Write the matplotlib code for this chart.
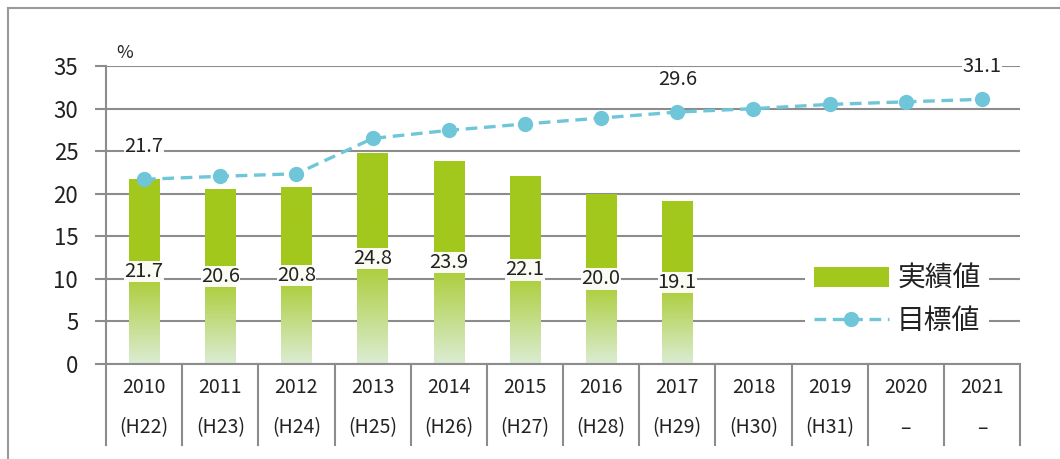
import matplotlib
matplotlib.use("Agg")
import matplotlib.pyplot as plt
import matplotlib.transforms as mtransforms
from matplotlib.lines import Line2D
from matplotlib.patches import Patch
from matplotlib.colors import LinearSegmentedColormap
import numpy as np

plt.rcParams['font.family'] = ['Noto Sans CJK JP', 'DejaVu Sans']

# data
years = ['2010', '2011', '2012', '2013', '2014', '2015', '2016', '2017', '2018', '2019', '2020', '2021']
eras = ['(H22)', '(H23)', '(H24)', '(H25)', '(H26)', '(H27)', '(H28)', '(H29)', '(H30)', '(H31)', '\u2013', '\u2013']
actual = [21.7, 20.6, 20.8, 24.8, 23.9, 22.1, 20.0, 19.1]
target = [21.7, 22.05, 22.35, 26.5, 27.45, 28.2, 28.9, 29.6, 30.0, 30.5, 30.8, 31.1]
target_labels = {0: '21.7', 7: '29.6', 11: '31.1'}

green = '#a3c81d'
pale = '#dbecd3'
blue = '#6fc6d9'
grid_c = '#8c8c8c'
txt_c = '#222222'

fig = plt.figure(figsize=(10.6, 4.59), dpi=100)
ax = fig.add_axes([0.1, 0.207, 0.9623 - 0.1, 0.856 - 0.207])

# outer border (top + left)
fig.add_artist(Line2D([8/1060, 1], [1 - 8/459, 1 - 8/459], color='#9a9a9a', lw=1.5))
fig.add_artist(Line2D([8/1060, 8/1060], [0, 1 - 8/459], color='#9a9a9a', lw=1.5))

x = np.arange(len(years))

# gradient bars
cmap = LinearSegmentedColormap.from_list('g', [(0, pale), (0.55, green), (1, green)])
grad = np.linspace(0, 1, 256).reshape(-1, 1)
bars = ax.bar(x[:len(actual)], actual, width=0.4, color='none', zorder=2)
for b, v in zip(bars, actual):
    im = ax.imshow(grad, cmap=cmap, origin='lower', aspect='auto',
                   extent=[b.get_x(), b.get_x() + b.get_width(), 0, v], zorder=2)
    im.set_clip_path(b)
ax.set_xlim(-0.5, len(years) - 0.5)
ax.set_ylim(0, 35)

for i, v in enumerate(actual):
    ax.text(i, v / 2, f'{v:.1f}', ha='center', va='center', fontsize=14.5, color=txt_c, zorder=5,
            bbox=dict(facecolor='white', edgecolor='none', pad=0.2, alpha=0.95))

# target line
ax.plot(x, target, color=blue, lw=2.4, ls=(0, (3.5, 2)), marker='o', markersize=11,
        markeredgewidth=0, zorder=4)
for i, t in target_labels.items():
    ax.annotate(t, (i, target[i]), xytext=(0, 16), textcoords='offset points', ha='center',
                va='bottom', fontsize=14.5, color=txt_c, zorder=5,
                bbox=dict(facecolor='white', edgecolor='none', pad=0.2, alpha=0.95))

# grid / axes
ax.set_yticks(range(0, 36, 5))
ax.yaxis.grid(True, color=grid_c, lw=1.5, zorder=0)
ax.set_axisbelow(True)
ax.tick_params(axis='y', length=8, width=1.5, color=grid_c, labelsize=16, pad=12, labelcolor=txt_c)
ax.set_xticks([])
for s in ['top', 'right']:
    ax.spines[s].set_visible(False)
for s in ['left', 'bottom']:
    ax.spines[s].set_color(grid_c)
    ax.spines[s].set_linewidth(1.5)

# table-like category axis
tr = mtransforms.blended_transform_factory(ax.transData, ax.transAxes)
for k in range(len(years) + 1):
    ax.add_line(Line2D([k - 0.5, k - 0.5], [0, -0.272], transform=tr, color=grid_c, lw=1.5,
                       clip_on=False))
for i in range(len(years)):
    ax.text(i, -0.08, years[i], transform=tr, ha='center', va='center', fontsize=14, color=txt_c)
    ax.text(i, -0.215, eras[i], transform=tr, ha='center', va='center', fontsize=14, color=txt_c)

ax.text(-0.25, 1.045, '%', transform=tr, ha='center', va='center', fontsize=13, color=txt_c)

# legend
handles = [Patch(facecolor=green, edgecolor='none'),
           Line2D([0], [0], color=blue, lw=2.4, ls=(0, (3.5, 2)), marker='o', markersize=11,
                  markeredgewidth=0)]
leg = ax.legend(handles, ['実績値', '目標値'], loc='center left', bbox_to_anchor=(0.75, 0.215),
                fontsize=20, frameon=True, framealpha=1, edgecolor='none', handlelength=2.7,
                handleheight=0.7, handletextpad=0.3, labelspacing=0.45, borderpad=0.3)
leg.set_zorder(6)
for t in leg.get_texts():
    t.set_color(txt_c)

fig.savefig('out.png', dpi=100)
